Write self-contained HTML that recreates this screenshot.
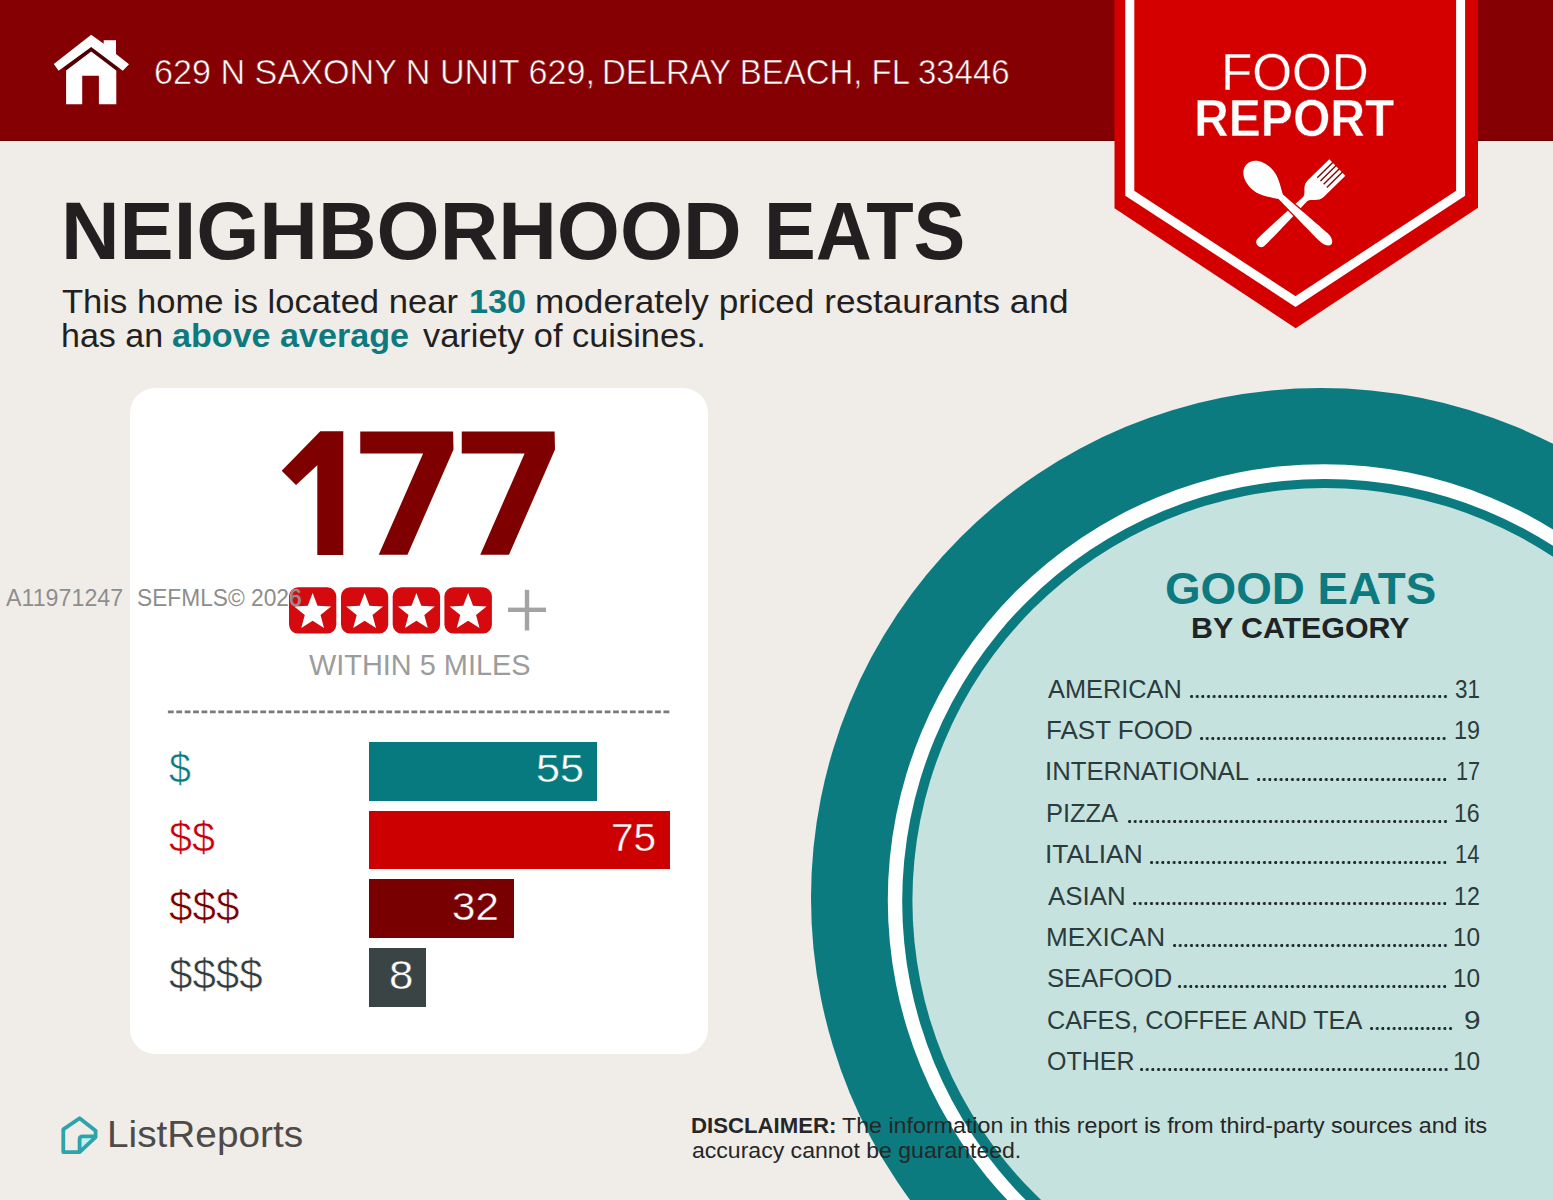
<!DOCTYPE html>
<html><head><meta charset="utf-8"><title>Food Report</title>
<style>
html,body{margin:0;padding:0;}
body{width:1553px;height:1200px;overflow:hidden;position:relative;background:#f0ece8;font-family:"Liberation Sans",sans-serif;}
.abs{position:absolute;}
.t{position:absolute;white-space:pre;transform-origin:0 0;}
.t b{font-weight:700;}
.dots{position:absolute;height:3.2px;background-image:radial-gradient(circle at 1.6px 1.6px,#1e2c2d 1.35px,rgba(30,44,45,0) 1.75px);background-size:5.65px 3.2px;background-repeat:repeat-x;}
</style></head><body>
<div class="abs" style="left:0;top:0;width:1553px;height:141px;background:#840002"></div>
<div class="abs" style="left:0;top:138.5px;width:1553px;height:2.5px;background:linear-gradient(#840002,#5c0000)"></div>
<svg class="abs" style="left:0;top:0" width="160" height="141" viewBox="0 0 160 141"><polyline fill="none" stroke="#4e0000" stroke-width="4.2" points="64.8,69.2 91.2,49.4 117.6,69.2"/><polygon fill="#fff" points="91.2,34.8 103.7,43.7 103.7,40.3 116,40.3 116,54 129,64.2 122.8,70.7 91.2,47.1 58.6,70.7 53.8,63.9"/><polygon fill="#fff" points="91.2,51.6 116.3,70.4 116.3,104.2 98.9,104.2 98.9,75.8 82.2,75.8 82.2,104.2 66.1,104.2 66.1,70.4"/></svg>
<svg class="abs" style="left:0;top:0" width="1553" height="340" viewBox="0 0 1553 340"><polygon fill="#d40000" points="1114.5,0 1478,0 1478,207.8 1295.7,328.2 1114.5,208.3"/><polyline fill="none" stroke="#fff" stroke-width="9" stroke-miterlimit="10" points="1129.8,-5 1129.8,193.2 1295.5,301.5 1460.6,193.2 1460.6,-5"/></svg>
<svg class="abs" style="left:0;top:0" width="1553" height="340" viewBox="0 0 1553 340"><g transform="translate(1261.3,242) rotate(45.6)"><path fill="#fff" d="M-5,0 C-5,-15 -3.6,-45 -2.9,-61 C-2.9,-66 -11.5,-68 -11.5,-76 L-11.5,-106.4 L11.5,-106.4 L11.5,-76 C11.5,-68 2.9,-66 2.9,-61 C3.6,-45 5,-15 5,0 C5,3.2 2.8,5 0,5 C-2.8,5 -5,3.2 -5,0 Z"/><rect x="-7.50" y="-107" width="1.4" height="22" fill="#7a0a0a"/><rect x="-3.00" y="-107" width="1.4" height="22" fill="#7a0a0a"/><rect x="1.60" y="-107" width="1.4" height="22" fill="#7a0a0a"/><rect x="6.10" y="-107" width="1.4" height="22" fill="#7a0a0a"/></g><g transform="translate(1246.5,164.5) rotate(-46.7)"><path fill="#fff" stroke="#d40000" stroke-width="2.6" paint-order="stroke" d="M0,0 C-8.5,0 -14.3,9 -14.3,20.5 C-14.3,31 -7,40 -3.2,47 C-4,70 -5.6,95 -5.6,106 C-5.6,112.5 -3,116.5 0,116.5 C3,116.5 5.6,112.5 5.6,106 C5.6,95 4,70 3.2,47 C7,40 14.3,31 14.3,20.5 C14.3,9 8.5,0 0,0 Z"/></g></svg>
<svg class="abs" style="left:0;top:0" width="1553" height="1200" viewBox="0 0 1553 1200"><circle cx="1321" cy="898" r="510" fill="#0b7b80"/><circle cx="1323.7" cy="900.1" r="435.9" fill="#ffffff"/><circle cx="1324.8" cy="901.5" r="422.6" fill="#0b7b80"/><circle cx="1325" cy="900.6" r="412.6" fill="#c6e2de"/></svg>
<div class="abs" style="left:129.5px;top:388px;width:578px;height:666px;border-radius:25px;background:#fff"></div>
<svg class="abs" style="left:0;top:0" width="707" height="720" viewBox="0 0 707 720"><g fill="#7f0000"><polygon points="320.3,431.3 343.3,431.3 343.3,555 317.3,555 317.3,465.3 296,485 281.7,470.7"/><polygon points="360.25,431.5 453.1,431.5 453.5,449.4 407.5,554.75 378.75,554.75 423.1,453.5 360.25,453.5"/><polygon transform="translate(101.5,0)" points="360.25,431.5 453.1,431.5 453.5,449.4 407.5,554.75 378.75,554.75 423.1,453.5 360.25,453.5"/></g><rect x="289" y="587.3" width="47.3" height="46.3" rx="9" fill="#d40a0f"/><polygon points="312.65,593.00 317.53,605.69 331.10,606.41 320.54,614.96 324.05,628.09 312.65,620.70 301.25,628.09 304.76,614.96 294.20,606.41 307.77,605.69" fill="#fff"/><rect x="341" y="587.3" width="47.2" height="46.3" rx="9" fill="#d40a0f"/><polygon points="364.60,593.00 369.48,605.69 383.05,606.41 372.49,614.96 376.00,628.09 364.60,620.70 353.20,628.09 356.71,614.96 346.15,606.41 359.72,605.69" fill="#fff"/><rect x="392.7" y="587.3" width="47.4" height="46.3" rx="9" fill="#d40a0f"/><polygon points="416.40,593.00 421.28,605.69 434.85,606.41 424.29,614.96 427.80,628.09 416.40,620.70 405.00,628.09 408.51,614.96 397.95,606.41 411.52,605.69" fill="#fff"/><rect x="444.4" y="587.3" width="47.5" height="46.3" rx="9" fill="#d40a0f"/><polygon points="468.15,593.00 473.03,605.69 486.60,606.41 476.04,614.96 479.55,628.09 468.15,620.70 456.75,628.09 460.26,614.96 449.70,606.41 463.27,605.69" fill="#fff"/><rect x="508" y="607.6" width="38" height="4.4" fill="#a3a3a3"/><rect x="524.8" y="589.8" width="4.4" height="40.7" fill="#a3a3a3"/><line x1="167.9" y1="711.9" x2="670" y2="711.9" stroke="#7a7a7a" stroke-width="2.8" stroke-dasharray="5.8 2.6"/></svg>
<div class="abs" style="left:369px;top:741.6px;width:228.4px;height:59.1px;background:#077a80"></div><div class="abs" style="left:369px;top:810.8px;width:301px;height:58.6px;background:#cc0000"></div><div class="abs" style="left:369px;top:879.2px;width:144.8px;height:59.1px;background:#780000"></div><div class="abs" style="left:369px;top:948px;width:57px;height:58.8px;background:#3a4445"></div>
<svg class="abs" style="left:0;top:1080px" width="120" height="100" viewBox="0 1080 120 100"><path d="M79.6,1137.8 L94.6,1136.3 L79.6,1152.1 Z" fill="#bff3f3"/><path fill="none" stroke="#2ea3aa" stroke-width="3.8" stroke-linejoin="round" stroke-linecap="round" d="M79.6,1118.3 L63.3,1129.4 L63.3,1152.1 L79.6,1152.1 L95.6,1137.1 L95.6,1130.8 Z M79.6,1152.1 L79.6,1139.5 Q79.6,1136.3 82.8,1136.3 L94.8,1136.3"/></svg>
<div class="dots" style="left:1189.9px;top:695.4px;width:258.3px;"></div><div class="dots" style="left:1200.3px;top:736.8px;width:247.9px;"></div><div class="dots" style="left:1257.2px;top:778.2px;width:191.0px;"></div><div class="dots" style="left:1127.9px;top:819.6px;width:320.3px;"></div><div class="dots" style="left:1150.1px;top:861.0px;width:298.1px;"></div><div class="dots" style="left:1132.7px;top:902.4px;width:315.5px;"></div><div class="dots" style="left:1172.6px;top:943.8px;width:275.6px;"></div><div class="dots" style="left:1178.2px;top:985.2px;width:270.0px;"></div><div class="dots" style="left:1369.5px;top:1026.6px;width:84.8px;"></div><div class="dots" style="left:1140.0px;top:1068.0px;width:308.2px;"></div>
<div class="t" style="left:153.99px;top:54.74px;font-size:34.45px;line-height:34.45px;font-weight:400;color:#fff;transform:scaleX(0.9916);-webkit-text-stroke:0.6px #840002;">629 N SAXONY N UNIT 629,</div>
<div class="t" style="left:601.86px;top:54.74px;font-size:34.45px;line-height:34.45px;font-weight:400;color:#fff;transform:scaleX(0.9562);-webkit-text-stroke:0.6px #840002;">DELRAY BEACH, FL 33446</div>
<div class="t" style="left:1221.31px;top:46.77px;font-size:51.31px;line-height:51.31px;font-weight:400;color:#fff;transform:scaleX(0.9971);-webkit-text-stroke:0.3px #d40000;">FOOD</div>
<div class="t" style="left:1194.03px;top:92.82px;font-size:51.60px;line-height:51.60px;font-weight:700;color:#fff;transform:scaleX(0.9321);-webkit-text-stroke:0.5px #d40000;">REPORT</div>
<div class="t" style="left:60.72px;top:190.71px;font-size:80.67px;line-height:80.67px;font-weight:700;color:#231f20;transform:scaleX(1.0059);">NEIGHBORHOOD</div>
<div class="t" style="left:763.76px;top:190.71px;font-size:80.67px;line-height:80.67px;font-weight:700;color:#231f20;transform:scaleX(0.9632);">EATS</div>
<div class="t" style="left:62.31px;top:285.82px;font-size:32.70px;line-height:32.70px;font-weight:400;color:#231f20;transform:scaleX(1.0578);">This home is located near</div>
<div class="t" style="left:468.75px;top:285.82px;font-size:32.70px;line-height:32.70px;font-weight:700;color:#0d7a80;transform:scaleX(1.0459);">130</div>
<div class="t" style="left:535.14px;top:285.82px;font-size:32.70px;line-height:32.70px;font-weight:400;color:#231f20;transform:scaleX(1.0755);">moderately priced restaurants and</div>
<div class="t" style="left:60.62px;top:319.84px;font-size:32.56px;line-height:32.56px;font-weight:400;color:#231f20;transform:scaleX(1.0445);">has an</div>
<div class="t" style="left:172.18px;top:319.84px;font-size:32.56px;line-height:32.56px;font-weight:700;color:#0d7a80;transform:scaleX(1.0478);">above average</div>
<div class="t" style="left:423.30px;top:319.84px;font-size:32.56px;line-height:32.56px;font-weight:400;color:#231f20;transform:scaleX(1.0563);">variety of cuisines.</div>
<div class="t" style="left:308.51px;top:650.64px;font-size:28.78px;line-height:28.78px;font-weight:400;color:#9c9c9c;transform:scaleX(1.0045);">WITHIN 5 MILES</div>
<div class="t" style="left:536.08px;top:750.09px;font-size:38.52px;line-height:38.52px;font-weight:400;color:#fff;transform:scaleX(1.1192);-webkit-text-stroke:0.4px #077a80;">55</div>
<div class="t" style="left:610.67px;top:818.94px;font-size:38.23px;line-height:38.23px;font-weight:400;color:#fff;transform:scaleX(1.0618);-webkit-text-stroke:0.4px #cc0000;">75</div>
<div class="t" style="left:452.32px;top:887.92px;font-size:38.37px;line-height:38.37px;font-weight:400;color:#fff;transform:scaleX(1.0961);-webkit-text-stroke:0.4px #780000;">32</div>
<div class="t" style="left:1164.57px;top:565.74px;font-size:45.20px;line-height:45.20px;font-weight:700;color:#0d7a80;transform:scaleX(1.0131);">GOOD EATS</div>
<div class="t" style="left:1190.78px;top:612.75px;font-size:29.36px;line-height:29.36px;font-weight:700;color:#1f2325;transform:scaleX(1.0328);">BY CATEGORY</div>
<div class="t" style="left:106.60px;top:1115.98px;font-size:37.35px;line-height:37.35px;font-weight:400;color:#4d4a48;transform:scaleX(1.0388);">ListReports</div>
<div class="t" style="left:691.45px;top:1115.47px;font-size:21.66px;line-height:21.66px;font-weight:700;color:#262626;transform:scaleX(1.0239);">DISCLAIMER:</div>
<div class="t" style="left:841.74px;top:1115.47px;font-size:21.66px;line-height:21.66px;font-weight:400;color:#262626;transform:scaleX(1.0720);">The information in this report is from third-party sources and its</div>
<div class="t" style="left:692.08px;top:1139.54px;font-size:21.80px;line-height:21.80px;font-weight:400;color:#262626;transform:scaleX(1.0573);">accuracy cannot be guaranteed.</div>
<div class="t" style="left:1047.80px;top:676.60px;font-size:25.87px;line-height:25.87px;font-weight:400;color:#2c3b3c;transform:scaleX(0.9797);">AMERICAN</div>
<div class="t" style="left:1454.90px;top:676.60px;font-size:25.87px;line-height:25.87px;font-weight:400;color:#2c3b3c;transform:scaleX(0.8678);">31</div>
<div class="t" style="left:1045.72px;top:718.00px;font-size:25.87px;line-height:25.87px;font-weight:400;color:#2c3b3c;transform:scaleX(1.0055);">FAST FOOD</div>
<div class="t" style="left:1453.93px;top:718.00px;font-size:25.87px;line-height:25.87px;font-weight:400;color:#2c3b3c;transform:scaleX(0.9032);">19</div>
<div class="t" style="left:1045.48px;top:759.40px;font-size:25.87px;line-height:25.87px;font-weight:400;color:#2c3b3c;transform:scaleX(0.9950);">INTERNATIONAL</div>
<div class="t" style="left:1455.77px;top:759.40px;font-size:25.87px;line-height:25.87px;font-weight:400;color:#2c3b3c;transform:scaleX(0.8361);">17</div>
<div class="t" style="left:1045.76px;top:800.80px;font-size:25.87px;line-height:25.87px;font-weight:400;color:#2c3b3c;transform:scaleX(0.9839);">PIZZA</div>
<div class="t" style="left:1453.95px;top:800.80px;font-size:25.87px;line-height:25.87px;font-weight:400;color:#2c3b3c;transform:scaleX(0.8941);">16</div>
<div class="t" style="left:1045.42px;top:842.20px;font-size:25.87px;line-height:25.87px;font-weight:400;color:#2c3b3c;transform:scaleX(1.0205);">ITALIAN</div>
<div class="t" style="left:1454.94px;top:842.20px;font-size:25.87px;line-height:25.87px;font-weight:400;color:#2c3b3c;transform:scaleX(0.8503);">14</div>
<div class="t" style="left:1047.80px;top:883.60px;font-size:25.87px;line-height:25.87px;font-weight:400;color:#2c3b3c;transform:scaleX(1.0007);">ASIAN</div>
<div class="t" style="left:1454.15px;top:883.60px;font-size:25.87px;line-height:25.87px;font-weight:400;color:#2c3b3c;transform:scaleX(0.8953);">12</div>
<div class="t" style="left:1045.71px;top:925.00px;font-size:25.87px;line-height:25.87px;font-weight:400;color:#2c3b3c;transform:scaleX(1.0102);">MEXICAN</div>
<div class="t" style="left:1452.54px;top:925.00px;font-size:25.87px;line-height:25.87px;font-weight:400;color:#2c3b3c;transform:scaleX(0.9448);">10</div>
<div class="t" style="left:1046.52px;top:966.40px;font-size:25.87px;line-height:25.87px;font-weight:400;color:#2c3b3c;transform:scaleX(0.9901);">SEAFOOD</div>
<div class="t" style="left:1452.54px;top:966.40px;font-size:25.87px;line-height:25.87px;font-weight:400;color:#2c3b3c;transform:scaleX(0.9448);">10</div>
<div class="t" style="left:1046.54px;top:1007.80px;font-size:25.87px;line-height:25.87px;font-weight:400;color:#2c3b3c;transform:scaleX(0.9767);">CAFES, COFFEE AND TEA</div>
<div class="t" style="left:1463.51px;top:1007.80px;font-size:25.87px;line-height:25.87px;font-weight:400;color:#2c3b3c;transform:scaleX(1.1511);">9</div>
<div class="t" style="left:1046.55px;top:1049.20px;font-size:25.87px;line-height:25.87px;font-weight:400;color:#2c3b3c;transform:scaleX(0.9686);">OTHER</div>
<div class="t" style="left:1452.54px;top:1049.20px;font-size:25.87px;line-height:25.87px;font-weight:400;color:#2c3b3c;transform:scaleX(0.9448);">10</div>
<div class="t" style="left:168.81px;top:747.09px;font-size:42.80px;line-height:42.80px;font-weight:400;color:#0d7a80;transform:scaleX(0.9212);-webkit-text-stroke:0.6px #fff;">$</div>
<div class="t" style="left:168.79px;top:816.19px;font-size:42.80px;line-height:42.80px;font-weight:400;color:#c8000a;transform:scaleX(0.9669);-webkit-text-stroke:0.6px #fff;">$$</div>
<div class="t" style="left:168.78px;top:884.79px;font-size:42.80px;line-height:42.80px;font-weight:400;color:#7a0000;transform:scaleX(0.9872);-webkit-text-stroke:0.6px #fff;">$$$</div>
<div class="t" style="left:168.78px;top:953.49px;font-size:42.80px;line-height:42.80px;font-weight:400;color:#333c3d;transform:scaleX(0.9844);-webkit-text-stroke:0.6px #fff;">$$$$</div>
<div class="t" style="left:388.65px;top:955.03px;font-size:41.42px;line-height:41.42px;font-weight:400;color:#fff;transform:scaleX(1.0581);-webkit-text-stroke:0.4px #3a4445;">8</div>
<div class="t" style="left:6.00px;top:586.20px;font-size:23.98px;line-height:23.98px;font-weight:400;color:#8d8d8d;transform:scaleX(0.9693);text-shadow:0 0 1px rgba(255,255,255,.6);">A11971247</div>
<div class="t" style="left:136.56px;top:586.20px;font-size:23.98px;line-height:23.98px;font-weight:400;color:#8d8d8d;transform:scaleX(0.9488);text-shadow:0 0 1px rgba(255,255,255,.6);">SEFMLS© 2026</div>
</body></html>
